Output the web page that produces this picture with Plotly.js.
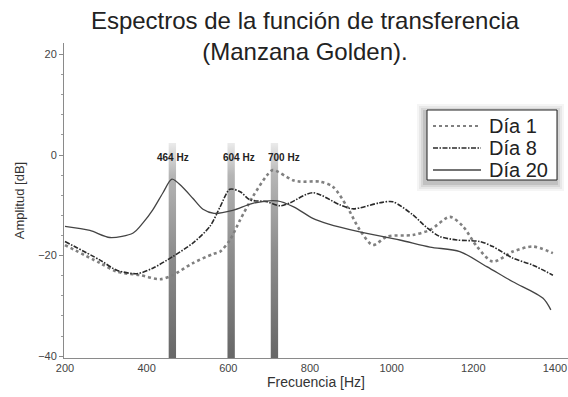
<!DOCTYPE html>
<html>
<head>
<meta charset="utf-8">
<script src="https://cdn.plot.ly/plotly-3.0.1.min.js"></script>
<style>html,body{margin:0;padding:0;background:#fff;}#chart{width:568px;height:397px;}</style>
</head>
<body>
<div id="chart"></div>
<script>
// ---- data ----
const freqDia1 = [200, 286, 327, 384, 433, 464, 513, 562, 580, 604, 629, 660, 695, 709, 758, 776, 824, 856, 891, 922, 954, 989, 1052, 1094, 1143, 1175, 1209, 1248, 1297, 1346, 1395];
const ampDia1  = [-17.9, -21.5, -23.2, -23.9, -24.7, -23.9, -21.5, -19.7, -19.2, -16.9, -12.9, -8.3, -4.0, -3.0, -5.0, -5.3, -5.3, -6.3, -10.3, -14.9, -17.9, -16.2, -15.9, -14.9, -12.3, -14.2, -18.2, -21.2, -19.2, -18.2, -19.5];

const freqDia8 = [200, 286, 327, 376, 415, 464, 513, 555, 580, 604, 629, 653, 695, 727, 751, 807, 873, 905, 971, 1003, 1052, 1087, 1118, 1160, 1216, 1248, 1297, 1346, 1395];
const ampDia8  = [-17.2, -20.9, -22.9, -23.6, -22.5, -20.2, -17.5, -14.2, -10.3, -6.8, -7.3, -8.9, -9.3, -10.1, -9.5, -7.5, -9.9, -10.7, -9.5, -9.3, -11.9, -14.5, -16.2, -16.9, -17.2, -18.2, -20.5, -21.9, -23.9];

const freqDia20 = [200, 261, 310, 367, 391, 415, 440, 462, 487, 513, 538, 565, 611, 660, 720, 760, 807, 844, 922, 1020, 1094, 1167, 1233, 1297, 1371, 1390];
const ampDia20  = [-14.2, -15.0, -16.4, -15.5, -13.5, -10.9, -7.5, -4.8, -6.3, -8.6, -10.8, -11.6, -11.0, -9.6, -9.1, -10.3, -12.6, -13.7, -15.3, -16.9, -18.3, -19.2, -22.2, -25.2, -28.5, -30.8];

const seriesNames = ['Día 1', 'Día 8', 'Día 20'];

const barFreq   = [463, 607, 713];
const barLabels = ['464 Hz', '604 Hz', '700 Hz'];

const xTicks = [200, 400, 600, 800, 1000, 1200, 1400];
const yTicks = [-40, -20, 0, 20];

// ---- styling / layout constants ----
const FONT = 'Liberation Sans, Arial, sans-serif';
const BAR_HALF = 9;      // Hz
const BAR_TOP = 2.4;     // dB
const Y_BOTTOM = -40.36;
const labelShift = [1, 8, 10];

const lineStyles = [
  {color: '#808080', width: 2.6, dash: 'dot'},
  {color: '#2a2a2a', width: 1.6, dash: '5px,1.5px,1.5px,1.5px'},
  {color: '#444444', width: 1.3, dash: 'solid'}
];

const traces = [];
barFreq.forEach(function (f) {
  traces.push({
    type: 'scatter', mode: 'lines',
    x: [f - BAR_HALF, f + BAR_HALF, f + BAR_HALF, f - BAR_HALF, f - BAR_HALF],
    y: [Y_BOTTOM, Y_BOTTOM, BAR_TOP, BAR_TOP, Y_BOTTOM],
    fill: 'toself',
    fillgradient: {
      type: 'vertical',
      start: Y_BOTTOM, stop: BAR_TOP,
      colorscale: [[0, '#676767'], [0.5, '#8e8e8e'], [0.85, '#b5b5b5'], [1, '#ebebeb']]
    },
    line: {width: 0, color: 'rgba(0,0,0,0)'},
    showlegend: false, hoverinfo: 'skip'
  });
});

const seriesX = [freqDia1, freqDia8, freqDia20];
const seriesY = [ampDia1, ampDia8, ampDia20];
seriesNames.forEach(function (name, i) {
  traces.push({
    type: 'scatter', mode: 'lines', name: name,
    x: seriesX[i], y: seriesY[i], showlegend: false,
    line: Object.assign({shape: 'spline', smoothing: 0.8}, lineStyles[i])
  });
});

// plot area in pixels
const L = 64, R = 0, T = 43, B = 39, W = 568, H = 397;
const pw = W - L - R, ph = H - T - B;
function px2x(px) { return (px - L) / pw; }
function py2y(py) { return (H - B - py) / ph; }

// legend box drawn by hand (reference box ~ 427..557 x 110..180)
const box = {x0: 427, x1: 557, y0: 110, y1: 180};
const shapes = [];
[[8, 0.04], [6, 0.05], [4, 0.07], [2, 0.10]].forEach(function (s) {
  const e = s[0];
  shapes.push({
    type: 'rect', xref: 'paper', yref: 'paper', layer: 'above',
    x0: px2x(box.x0 - e - 2), x1: px2x(box.x1 + e - 1),
    y0: py2y(box.y1 + e + 3), y1: py2y(box.y0 - e + 2),
    line: {width: 0}, fillcolor: 'rgba(0,0,0,' + s[1] + ')'
  });
});
shapes.push({
  type: 'rect', xref: 'paper', yref: 'paper', layer: 'above',
  x0: px2x(box.x0), x1: px2x(box.x1), y0: py2y(box.y1), y1: py2y(box.y0),
  line: {width: 1, color: '#222'}, fillcolor: '#ffffff'
});
const rowY = [126, 148, 170];
const annotations = [];
seriesNames.forEach(function (name, i) {
  shapes.push({
    type: 'line', xref: 'paper', yref: 'paper', layer: 'above',
    x0: px2x(433), x1: px2x(481), y0: py2y(rowY[i]), y1: py2y(rowY[i]),
    line: {color: lineStyles[i].color, width: Math.min(lineStyles[i].width, 2), dash: lineStyles[i].dash}
  });
  annotations.push({
    xref: 'paper', yref: 'paper', x: px2x(487), y: py2y(rowY[i]),
    xanchor: 'left', yanchor: 'middle', showarrow: false, text: name,
    font: {family: FONT, size: 20, color: '#222'}
  });
});

barFreq.forEach(function (f, i) {
  annotations.push({
    x: f, y: -0.4, xref: 'x', yref: 'y', text: '<b>' + barLabels[i] + '</b>',
    showarrow: false, xanchor: 'center', yanchor: 'middle', xshift: labelShift[i],
    font: {family: FONT, size: 10, color: '#222'}
  });
});

const layout = {
  width: W, height: H,
  margin: {l: L, r: R, t: T, b: B, pad: 0},
  paper_bgcolor: '#fff', plot_bgcolor: '#fff',
  font: {family: FONT, color: '#333'},
  title: {
    text: 'Espectros de la función de transferencia<br>(Manzana Golden).',
    font: {family: FONT, size: 24, color: '#222'},
    x: 0.537, xanchor: 'center', xref: 'container',
    y: 1 - 29 / 397, yanchor: 'middle', yref: 'container'
  },
  xaxis: {
    range: [197.6, 1432], tickvals: xTicks, ticktext: xTicks.map(String),
    showgrid: false, zeroline: false, showline: true, linecolor: '#8a8a8a', linewidth: 1,
    ticks: '', tickfont: {family: FONT, size: 11, color: '#444'},
    title: {text: 'Frecuencia [Hz]', font: {family: FONT, size: 14, color: '#333'}, standoff: 2}
  },
  yaxis: {
    range: [Y_BOTTOM, 22.27], tickvals: yTicks,
    showgrid: false, zeroline: false, showline: true, linecolor: '#8a8a8a', linewidth: 1,
    ticks: 'outside', ticklen: 4, tickcolor: '#8a8a8a',
    minor: {dtick: 4, ticks: 'outside', ticklen: 2, tickcolor: '#9a9a9a', showgrid: false},
    tickfont: {family: FONT, size: 11, color: '#444'},
    title: {text: 'Amplitud [dB]', font: {family: FONT, size: 13, color: '#333'}, standoff: 10}
  },
  shapes: shapes,
  annotations: annotations,
  showlegend: false
};

Plotly.newPlot('chart', traces, layout, {staticPlot: true, displayModeBar: false});
</script>
</body>
</html>
